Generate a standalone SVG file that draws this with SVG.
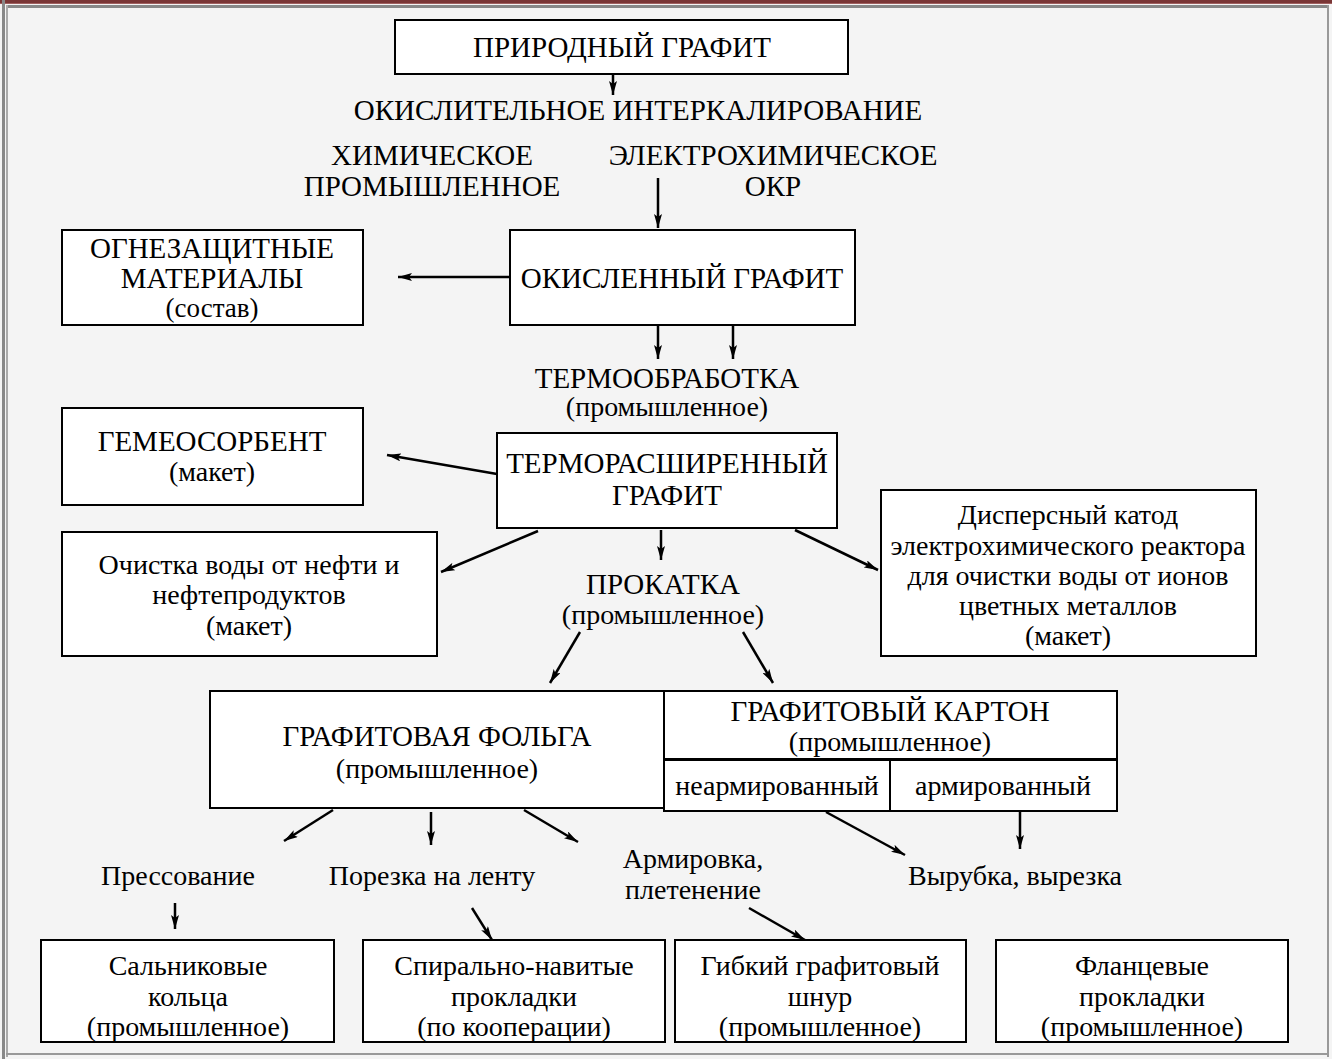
<svg xmlns="http://www.w3.org/2000/svg" width="1332" height="1059" viewBox="0 0 1332 1059">
<defs>
<marker id="ah" viewBox="0 0 14 8" refX="14" refY="4" markerWidth="14" markerHeight="8" markerUnits="userSpaceOnUse" orient="auto">
<path d="M0,0 L14,4 L0,8 L3,4 Z" fill="#000"/>
</marker>
</defs>
<style>
.bx{fill:#fff;stroke:#000;stroke-width:2}
.t{font-family:"Liberation Serif","Times New Roman",serif;fill:#000;text-anchor:middle}
.u{font-size:29px}
.l{font-size:28px}
.s{font-size:27px}
.c line{stroke:#000;stroke-width:2.5;marker-end:url(#ah)}
</style>
<rect x="0" y="0" width="1332" height="1059" fill="#f4f4f4"/>
<g id="frame">
<rect x="0" y="0" width="1332" height="3" fill="#7a3636"/>
<rect x="0" y="3" width="1332" height="1" fill="#a06060"/>
<rect x="7" y="5" width="1320" height="3" fill="#888"/>
<rect x="2" y="0" width="3" height="1059" fill="#888"/>
<rect x="6" y="5" width="2" height="1052" fill="#aaa"/>
<rect x="1327" y="5" width="2" height="1052" fill="#999"/>
<rect x="6" y="1053" width="1323" height="2" fill="#999"/>
</g>

<g id="n-prirodny">
<rect class="bx" x="395" y="20" width="453" height="54"/>
<text class="t u" x="622" y="57">ПРИРОДНЫЙ ГРАФИТ</text>
</g>
<g id="n-okisl-interk">
<text class="t u" x="638" y="120">ОКИСЛИТЕЛЬНОЕ ИНТЕРКАЛИРОВАНИЕ</text>
</g>
<g id="n-chem">
<text class="t u" x="432" y="165">ХИМИЧЕСКОЕ</text>
<text class="t u" x="432" y="196">ПРОМЫШЛЕННОЕ</text>
</g>
<g id="n-electrochem">
<text class="t u" x="773" y="165">ЭЛЕКТРОХИМИЧЕСКОЕ</text>
<text class="t u" x="773" y="196">ОКР</text>
</g>
<g id="n-okisl-grafit">
<rect class="bx" x="510" y="230" width="345" height="95"/>
<text class="t u" x="682" y="288">ОКИСЛЕННЫЙ ГРАФИТ</text>
</g>
<g id="n-ogne">
<rect class="bx" x="62" y="230" width="301" height="95"/>
<text class="t u" x="212" y="258">ОГНЕЗАЩИТНЫЕ</text>
<text class="t u" x="212" y="288">МАТЕРИАЛЫ</text>
<text class="t s" x="212" y="317">(состав)</text>
</g>
<g id="n-termoobr">
<text class="t u" x="667" y="388">ТЕРМООБРАБОТКА</text>
<text class="t l" x="667" y="416">(промышленное)</text>
</g>
<g id="n-trg">
<rect class="bx" x="497" y="433" width="340" height="95"/>
<text class="t u" x="667" y="473">ТЕРМОРАСШИРЕННЫЙ</text>
<text class="t u" x="667" y="505">ГРАФИТ</text>
</g>
<g id="n-gemeo">
<rect class="bx" x="62" y="408" width="301" height="97"/>
<text class="t u" x="212" y="451">ГЕМЕОСОРБЕНТ</text>
<text class="t l" x="212" y="481">(макет)</text>
</g>
<g id="n-ochistka">
<rect class="bx" x="62" y="532" width="375" height="124"/>
<text class="t l" x="249" y="574">Очистка воды от нефти и</text>
<text class="t l" x="249" y="604">нефтепродуктов</text>
<text class="t l" x="249" y="635">(макет)</text>
</g>
<g id="n-prokatka">
<text class="t u" x="663" y="594">ПРОКАТКА</text>
<text class="t l" x="663" y="624">(промышленное)</text>
</g>
<g id="n-dispers">
<rect class="bx" x="881" y="490" width="375" height="166"/>
<text class="t l" x="1068" y="524">Дисперсный катод</text>
<text class="t l" x="1068" y="555">электрохимического реактора</text>
<text class="t l" x="1068" y="585">для очистки воды от ионов</text>
<text class="t l" x="1068" y="615">цветных металлов</text>
<text class="t l" x="1068" y="645">(макет)</text>
</g>
<g id="n-folga">
<rect class="bx" x="210" y="691" width="454" height="117"/>
<text class="t u" x="437" y="746">ГРАФИТОВАЯ ФОЛЬГА</text>
<text class="t l" x="437" y="778">(промышленное)</text>
</g>
<g id="n-karton">
<rect class="bx" x="664" y="691" width="453" height="68"/>
<text class="t u" x="890" y="721">ГРАФИТОВЫЙ КАРТОН</text>
<text class="t l" x="890" y="751">(промышленное)</text>
</g>
<g id="n-nearm">
<rect class="bx" x="664" y="760" width="226" height="51"/>
<text class="t l" x="777" y="795">неармированный</text>
</g>
<g id="n-arm">
<rect class="bx" x="890" y="760" width="227" height="51"/>
<text class="t l" x="1003" y="795">армированный</text>
</g>
<g id="n-press">
<text class="t l" x="178" y="885">Прессование</text>
</g>
<g id="n-porezka">
<text class="t l" x="432" y="885">Порезка на ленту</text>
</g>
<g id="n-armirovka">
<text class="t l" x="693" y="868">Армировка,</text>
<text class="t l" x="693" y="899">плетенение</text>
</g>
<g id="n-vyrubka">
<text class="t l" x="1015" y="885">Вырубка, вырезка</text>
</g>
<g id="n-salnik">
<rect class="bx" x="41" y="940" width="293" height="102"/>
<text class="t l" x="188" y="975">Сальниковые</text>
<text class="t l" x="188" y="1006">кольца</text>
<text class="t l" x="188" y="1036">(промышленное)</text>
</g>
<g id="n-spiral">
<rect class="bx" x="363" y="940" width="302" height="102"/>
<text class="t l" x="514" y="975">Спирально-навитые</text>
<text class="t l" x="514" y="1006">прокладки</text>
<text class="t l" x="514" y="1036">(по кооперации)</text>
</g>
<g id="n-shnur">
<rect class="bx" x="675" y="940" width="291" height="102"/>
<text class="t l" x="820" y="975">Гибкий графитовый</text>
<text class="t l" x="820" y="1006">шнур</text>
<text class="t l" x="820" y="1036">(промышленное)</text>
</g>
<g id="n-flanec">
<rect class="bx" x="996" y="940" width="292" height="102"/>
<text class="t l" x="1142" y="975">Фланцевые</text>
<text class="t l" x="1142" y="1006">прокладки</text>
<text class="t l" x="1142" y="1036">(промышленное)</text>
</g>

<g id="connectors" class="c">
<line x1="613" y1="74" x2="613" y2="95"/>
<line x1="658" y1="178" x2="658" y2="228"/>
<line x1="510" y1="277" x2="398" y2="277"/>
<line x1="658" y1="325" x2="658" y2="359"/>
<line x1="733" y1="325" x2="733" y2="359"/>
<line x1="497" y1="474" x2="387" y2="455"/>
<line x1="538" y1="531" x2="441" y2="572"/>
<line x1="661" y1="530" x2="661" y2="560"/>
<line x1="795" y1="530" x2="878" y2="570"/>
<line x1="580" y1="632" x2="550" y2="683"/>
<line x1="743" y1="632" x2="773" y2="683"/>
<line x1="333" y1="810" x2="284" y2="841"/>
<line x1="431" y1="812" x2="431" y2="845"/>
<line x1="524" y1="810" x2="578" y2="842"/>
<line x1="826" y1="812" x2="905" y2="855"/>
<line x1="1020" y1="812" x2="1020" y2="849"/>
<line x1="175" y1="903" x2="175" y2="929"/>
<line x1="472" y1="908" x2="492" y2="940"/>
<line x1="749" y1="908" x2="805" y2="940"/>
</g>
</svg>
